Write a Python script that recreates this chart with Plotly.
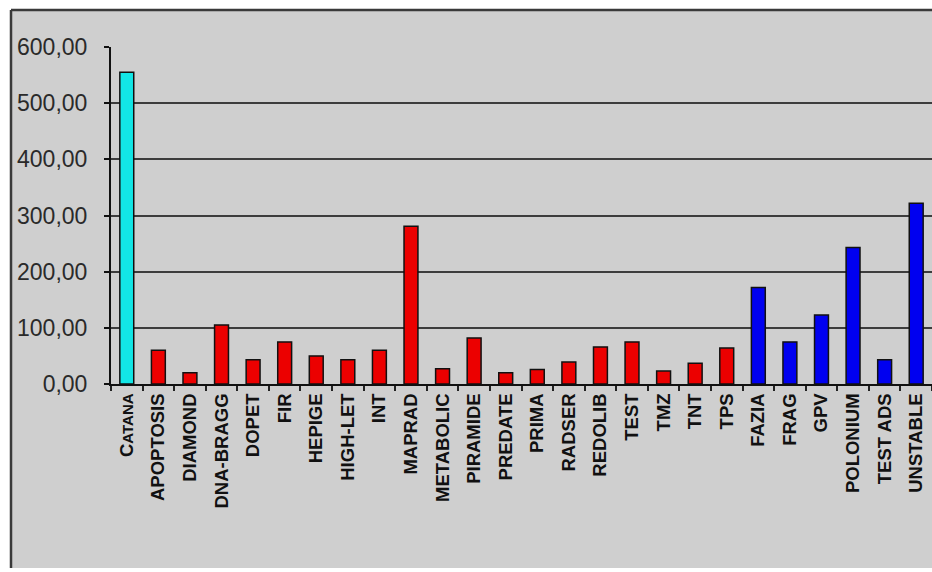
import plotly.graph_objects as go

# Projects and their values
categories = ["CATANA", "APOPTOSIS", "DIAMOND", "DNA-BRAGG", "DOPET", "FIR", "HEPIGE",
              "HIGH-LET", "INT", "MAPRAD", "METABOLIC", "PIRAMIDE", "PREDATE", "PRIMA",
              "RADSER", "REDOLIB", "TEST", "TMZ", "TNT", "TPS", "FAZIA", "FRAG", "GPV",
              "POLONIUM", "TEST ADS", "UNSTABLE"]
values = [555, 60, 20, 105, 43, 75, 50, 43, 60, 281, 27, 82, 20, 26, 39, 66, 75, 23, 37,
          64, 172, 75, 123, 243, 43, 322]
groups = ["cyan"] + ["red"] * 19 + ["blue"] * 6

y_tickvals = [0, 100, 200, 300, 400, 500, 600]
y_ticktext = ["0,00", "100,00", "200,00", "300,00", "400,00", "500,00", "600,00"]

group_colors = {"cyan": "#12e6e6", "red": "#ec0000", "blue": "#0000f0"}

# first label in small caps
x_ticktext = ["C<span style='font-size:15px'>ATANA</span>"] + categories[1:]

fig = go.Figure()
fig.add_trace(go.Bar(
    x=categories,
    y=values,
    marker=dict(color=[group_colors[g] for g in groups],
                line=dict(color="#111111", width=1.5)),
    width=0.44,
    showlegend=False,
))

W, H = 932, 572
L, R, T, B = 111, 0, 47, 188
pw, ph = W - L - R, H - T - B


def px_x(x):
    return (x - L) / pw


def px_y(y):
    return (H - B - y) / ph


fig.update_layout(
    width=W, height=H,
    margin=dict(l=L, r=R, t=T, b=B, pad=0),
    paper_bgcolor="white",
    plot_bgcolor="#dbdbdb",
    font=dict(family="Liberation Sans, Arial, sans-serif", color="#222222"),
    shapes=[
        # gray chart background with border on top and left
        dict(type="rect", xref="paper", yref="paper", layer="below",
             x0=px_x(11), x1=px_x(934), y0=px_y(568), y1=px_y(10),
             fillcolor="#cfcfcf", line=dict(width=0)),
        dict(type="line", xref="paper", yref="paper",
             x0=px_x(11), x1=px_x(934), y0=px_y(10), y1=px_y(10),
             line=dict(color="#3a3a3a", width=2.5)),
        dict(type="line", xref="paper", yref="paper",
             x0=px_x(11), x1=px_x(11), y0=px_y(568), y1=px_y(10),
             line=dict(color="#3a3a3a", width=2.5)),
    ],
)

fig.update_yaxes(
    range=[0, 600],
    tickvals=y_tickvals, ticktext=y_ticktext,
    tickfont=dict(size=23, color="#2a2a2a"),
    showgrid=True, gridcolor="#3c3c3c", gridwidth=2,
    showline=True, linecolor="#111111", linewidth=2,
    ticks="outside", ticklen=5, tickcolor="#111111", tickwidth=2,
    zeroline=False,
    ticklabelstandoff=12,
)

fig.update_xaxes(
    tickmode="array", tickvals=categories, ticktext=x_ticktext,
    tickangle=-90,
    tickfont=dict(size=18.5, color="#111111", family="Liberation Sans, Arial, sans-serif", weight="bold"),
    showline=True, linecolor="#111111", linewidth=2,
    ticks="outside", ticklen=5, tickcolor="#222222", tickwidth=2,
    tickson="boundaries",
    showgrid=False,
)

fig.write_html("out.html")
